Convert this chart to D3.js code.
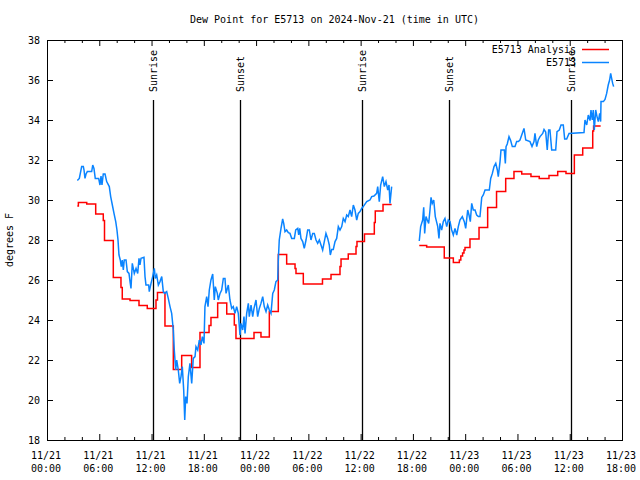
<!DOCTYPE html>
<html><head><meta charset="utf-8">
<script src="https://cdn.jsdelivr.net/npm/d3@7/dist/d3.min.js"></script>
<style>
body{margin:0;background:#fff;}
svg{display:block;}
text{font-family:"DejaVu Sans Mono","Liberation Mono",monospace;font-size:10px;fill:#000;}
</style></head><body>
<svg id="chart" width="640" height="480"></svg>
<script>
// ---------- DATA (hours since 11/21 00:00 UTC, dew point in °F) ----------
const chartTitle = "Dew Point for E5713 on 2024-Nov-21 (time in UTC)";
const yAxisLabel = "degrees F";
const seriesNames = ["E5713 Analysis", "E5713"];

const xTickHours = [0,6,12,18,24,30,36,42,48,54,60,66];
const xTickDates = ["11/21","11/21","11/21","11/21","11/22","11/22","11/22","11/22","11/23","11/23","11/23","11/23"];
const xTickTimes = ["00:00","06:00","12:00","18:00","00:00","06:00","12:00","18:00","00:00","06:00","12:00","18:00"];
const yTicks = [18,20,22,24,26,28,30,32,34,36,38];

const sunHours  = [12.17, 22.15, 36.16, 46.15, 60.16];
const sunLabels = ["Sunrise","Sunset","Sunrise","Sunset","Sunrise"];

// Analysis (hourly, step)
const analysis = [
 [3.48,29.7],[3.6,29.88],[4.56,29.8],[5.59,29.3],[6.46,28.97],[6.6,27.97],[7.61,26.13],[8.49,25.63],[8.64,25.05],[9.53,24.97],
 [10.56,24.73],[11.51,24.58],[12.51,25.0],[12.68,25.37],[13.54,23.7],[14.5,21.53],[15.46,22.22],[16.6,21.63],[17.56,23.38],[18.6,23.72],
 [18.82,24.12],[19.59,24.85],[20.63,24.3],[21.5,23.75],[21.69,23.08],[23.76,23.37],[24.56,23.15],[25.52,24.42],[26.55,27.28],[27.51,26.8],
 [28.47,26.58],[28.58,26.33],[29.42,25.8],[31.62,26.05],[32.6,26.27],[33.63,26.67],[33.75,27.05],[34.58,27.3],[35.47,27.67],[35.58,27.92],
 [36.44,28.3],[37.57,28.88],[37.68,29.45],[38.57,29.78],[39.56,29.78],
 [41.0,null],
 [42.73,27.73],[43.58,27.65],[45.6,27.1],[46.64,26.88],[47.33,27.0],[47.5,27.2],[47.7,27.35],[47.86,27.5],[47.98,27.63],[48.55,28.05],
 [49.59,28.63],[50.58,29.63],[51.6,30.42],[52.65,31.08],[53.6,31.43],[54.49,31.3],[55.55,31.18],[56.5,31.08],[57.62,31.23],[58.62,31.43],
 [59.57,31.33],[60.53,32.25],[61.49,32.6],[62.64,33.45],[62.74,33.7],[63.55,33.7]
];

// Station observations
const station = [
 [3.48,30.97],[3.71,31.08],[3.98,31.67],[4.17,31.67],[4.25,31.5],[4.36,31.08],[4.48,31.3],[4.63,31.42],[5.13,31.42],[5.25,31.75],
 [5.39,31.58],[5.54,31.08],[5.93,31.08],[6.08,30.75],[6.20,31.2],[6.31,30.75],[6.46,31.3],[6.66,31.3],[6.85,30.92],[7.15,30.67],
 [7.31,30.17],[7.50,29.75],[7.69,29.33],[7.89,28.92],[8.03,28.5],[8.15,28.0],[8.26,27.25],[8.41,27.0],[8.53,26.67],[8.64,27.0],
 [8.76,26.5],[8.87,27.0],[9.07,27.0],[9.22,26.42],[9.41,26.33],[9.53,25.92],[9.64,25.58],[9.79,26.83],[10.02,26.33],[10.22,26.58],
 [10.41,26.33],[10.56,27.08],[10.67,26.75],[10.79,27.08],[11.13,27.13],[11.25,26.17],[11.36,25.75],[11.67,25.75],[11.74,25.42],[11.94,25.83],
 [12.13,26.17],[12.32,26.58],[12.43,26.08],[12.59,26.25],[12.78,25.75],[12.97,25.92],[13.17,26.17],[13.35,25.42],[13.51,25.33],[13.74,25.42],
 [13.92,25.08],[14.12,24.67],[14.31,24.33],[14.50,23.5],[14.61,22.5],[14.77,21.5],[14.89,22.0],[15.07,21.5],[15.23,20.83],[15.38,21.17],
 [15.53,21.67],[15.69,20.5],[15.81,19.0],[15.92,20.17],[16.07,19.83],[16.22,21.17],[16.41,21.83],[16.61,20.83],[16.79,22.08],[16.99,22.17],
 [17.10,22.67],[17.30,22.5],[17.48,23.0],[17.68,22.75],[17.83,23.17],[18.02,22.83],[18.13,24.67],[18.33,25.17],[18.48,24.67],[18.63,25.5],
 [18.82,26.0],[19.02,26.3],[19.09,25.83],[19.20,25.0],[19.32,25.67],[19.55,25.33],[19.66,25.0],[19.86,25.33],[20.05,25.5],[20.24,26.08],
 [20.43,26.08],[20.55,25.33],[20.81,25.75],[21.00,25.0],[21.20,24.58],[21.38,24.67],[21.58,24.33],[21.77,24.67],[21.96,24.33],[22.15,23.25],
 [22.27,23.83],[22.46,23.5],[22.61,24.17],[22.73,23.33],[22.92,24.33],[23.11,24.83],[23.22,24.17],[23.42,24.75],[23.61,24.17],[23.76,24.58],
 [23.99,25.0],[24.18,24.17],[24.37,24.58],[24.56,24.83],[24.76,25.17],[24.94,24.67],[25.14,24.42],[25.33,24.75],[25.52,24.5],[25.71,24.33],
 [25.91,25.33],[26.09,25.5],[26.28,25.92],[26.48,26.0],[26.55,27.0],[26.66,28.0],[26.86,28.58],[27.05,29.05],[27.17,28.83],[27.32,28.42],
 [27.51,28.5],[27.70,28.37],[27.89,28.33],[28.09,28.08],[28.39,28.08],[28.55,28.5],[28.78,28.58],[28.89,28.25],[29.01,28.58],[29.15,28.08],
 [29.35,27.92],[29.53,27.58],[29.73,28.0],[29.92,28.5],[30.11,28.5],[30.30,28.0],[30.50,28.33],[30.68,28.33],[30.88,28.0],[31.07,27.83],
 [31.26,28.0],[31.45,27.75],[31.64,27.5],[31.83,27.92],[32.02,28.33],[32.22,28.08],[32.40,27.75],[32.52,27.25],[32.68,27.53],[32.86,27.53],
 [33.06,27.92],[33.25,28.08],[33.44,28.67],[33.63,28.5],[33.83,28.67],[34.01,29.08],[34.21,28.92],[34.40,29.25],[34.58,29.17],[34.78,29.5],
 [34.97,29.17],[35.16,29.75],[35.35,29.5],[35.55,29.0],[35.73,29.33],[35.93,29.42],[36.12,29.58],[36.30,29.67],[36.70,29.92],[37.07,30.0],
 [37.27,30.17],[37.53,30.2],[37.84,30.33],[37.96,30.67],[38.14,29.92],[38.30,30.75],[38.53,31.17],[38.72,30.67],[38.91,30.92],[39.11,30.5],
 [39.26,30.75],[39.37,29.83],[39.56,30.67],
 [41.0,null],
 [42.73,27.95],[42.89,28.67],[43.12,29.0],[43.24,29.63],[43.35,28.33],[43.50,29.17],[43.65,29.0],[43.81,28.83],[43.96,29.5],[44.08,30.13],
 [44.22,29.83],[44.39,30.0],[44.57,29.17],[44.85,28.67],[44.99,28.08],[45.11,28.83],[45.30,28.5],[45.49,28.92],[45.68,29.08],[45.88,28.67],
 [46.06,29.0],[46.26,28.92],[46.45,28.5],[46.64,28.25],[46.83,28.58],[47.03,28.25],[47.21,28.67],[47.40,29.0],[47.67,29.17],[47.90,28.92],
 [48.06,28.58],[48.29,29.5],[48.44,29.25],[48.59,28.92],[48.75,29.83],[48.93,29.5],[49.13,29.5],[49.32,29.25],[49.51,29.17],[49.70,29.17],
 [49.90,30.13],[50.08,30.25],[50.28,30.5],[50.77,30.5],[50.93,31.08],[51.12,31.33],[51.31,31.67],[51.51,31.83],[51.69,31.5],[51.80,31.17],
 [52.00,31.92],[52.11,32.5],[52.49,32.5],[52.61,31.83],[52.69,32.67],[52.83,32.8],[53.03,33.17],[53.22,32.97],[53.41,32.67],[53.72,32.67],
 [53.91,32.92],[54.10,32.92],[54.29,33.0],[54.49,33.25],[54.75,33.58],[54.95,33.0],[55.44,32.92],[55.67,32.67],[55.90,32.92],[56.01,33.33],
 [56.21,32.67],[56.39,33.0],[56.59,33.17],[56.90,33.33],[57.05,33.53],[57.24,33.4],[57.42,32.5],[57.58,33.5],[57.73,33.5],[57.93,32.5],
 [58.39,32.5],[58.54,33.42],[58.80,33.5],[59.00,33.75],[59.26,33.75],[59.42,33.05],[59.65,33.05],[59.92,33.33],[61.64,33.37],[61.75,34.0],
 [61.95,33.75],[62.13,34.25],[62.33,33.97],[62.44,34.5],[62.59,34.0],[62.70,34.5],[62.82,33.5],[62.98,34.5],[63.13,34.17],[63.28,33.92],
 [63.44,34.33],[63.55,33.92],[63.59,34.92],[63.86,34.92],[64.05,35.03],[64.24,35.33],[64.42,35.75],[64.58,36.0],[64.70,36.33],[64.81,36.08],
 [64.93,35.83],[65.04,35.67]
];

// ---------- DRAWING ----------
const L = 47, R = 622, T = 40, B = 440;
const svg = d3.select("#chart");
svg.append("rect").attr("width",640).attr("height",480).attr("fill","#fff");

const x = d3.scaleLinear().domain([0,66]).range([L,R]);
const y = d3.scaleLinear().domain([18,38]).range([B,T]);

const minorX = d3.range(0,67,2).filter(h => h % 6 !== 0);

// ticks (inward, mirrored)
function tickAxis(axis, g){ g.call(axis); g.select(".domain").remove(); g.selectAll("line").attr("stroke","#000"); }
tickAxis(d3.axisBottom(x).tickValues(xTickHours).tickSize(-6).tickFormat(""), svg.append("g").attr("transform",`translate(0,${B})`));
tickAxis(d3.axisBottom(x).tickValues(minorX).tickSize(-3).tickFormat(""), svg.append("g").attr("transform",`translate(0,${B})`));
tickAxis(d3.axisTop(x).tickValues(xTickHours).tickSize(-6).tickFormat(""), svg.append("g").attr("transform",`translate(0,${T})`));
tickAxis(d3.axisTop(x).tickValues(minorX).tickSize(-3).tickFormat(""), svg.append("g").attr("transform",`translate(0,${T})`));
const yl = svg.append("g").attr("transform",`translate(${L},0)`);
tickAxis(d3.axisLeft(y).tickValues(yTicks).tickSize(-6).tickPadding(7).tickFormat(d3.format("d")), yl);
yl.selectAll("text").style("font-size","10px").style("font-family",null);
tickAxis(d3.axisRight(y).tickValues(yTicks).tickSize(-6).tickFormat(""), svg.append("g").attr("transform",`translate(${R},0)`));

// x tick labels (two lines)
const xl = svg.append("g");
xTickHours.forEach((h,i) => {
  const t = xl.append("text").attr("text-anchor","middle").attr("x", x(h)-1);
  t.append("tspan").attr("x", x(h)-1).attr("y", 459).text(xTickDates[i]);
  t.append("tspan").attr("x", x(h)-1).attr("y", 472).text(xTickTimes[i]);
});

// frame
svg.append("rect").attr("x",L+0.5).attr("y",T+0.5).attr("width",R-L).attr("height",B-T)
  .attr("fill","none").attr("stroke","#000").attr("stroke-width",1);

// sunrise / sunset
sunHours.forEach((h,i) => {
  const sx = Math.round(x(h)) + 0.5;
  svg.append("line").attr("x1",sx).attr("x2",sx).attr("y1",100).attr("y2",B)
    .attr("stroke","#000").attr("stroke-width",1.3);
  svg.append("text").attr("transform",`translate(${sx},92) rotate(-90)`)
    .attr("dy","0.35em").attr("text-anchor","start").text(sunLabels[i]);
});

// series
const line = d3.line().defined(d => d[1] !== null).x(d => x(d[0])).y(d => y(d[1]));
svg.append("path").datum(analysis).attr("fill","none").attr("stroke","#ff0000").attr("stroke-width",1.5)
  .attr("d", line.curve(d3.curveStepAfter));
svg.append("path").datum(station).attr("fill","none").attr("stroke","#0a84ff").attr("stroke-width",1.5)
  .attr("d", d3.line().defined(d => d[1] !== null).x(d => x(d[0])).y(d => y(d[1])));

// legend
const legColors = ["#ff0000","#0a84ff"];
seriesNames.forEach((n,i) => {
  const ly = 49 + i*13;
  svg.append("text").attr("x",576).attr("y",ly+4).attr("text-anchor","end").text(n);
  svg.append("line").attr("x1",582).attr("x2",609).attr("y1",ly+0.5).attr("y2",ly+0.5)
    .attr("stroke",legColors[i]).attr("stroke-width",1.5);
});

// title and y label
svg.append("text").attr("x",(L+R)/2).attr("y",23).attr("text-anchor","middle").text(chartTitle);
svg.append("text").attr("transform",`translate(13,${(T+B)/2}) rotate(-90)`).attr("text-anchor","middle").text(yAxisLabel);
</script></body></html>
